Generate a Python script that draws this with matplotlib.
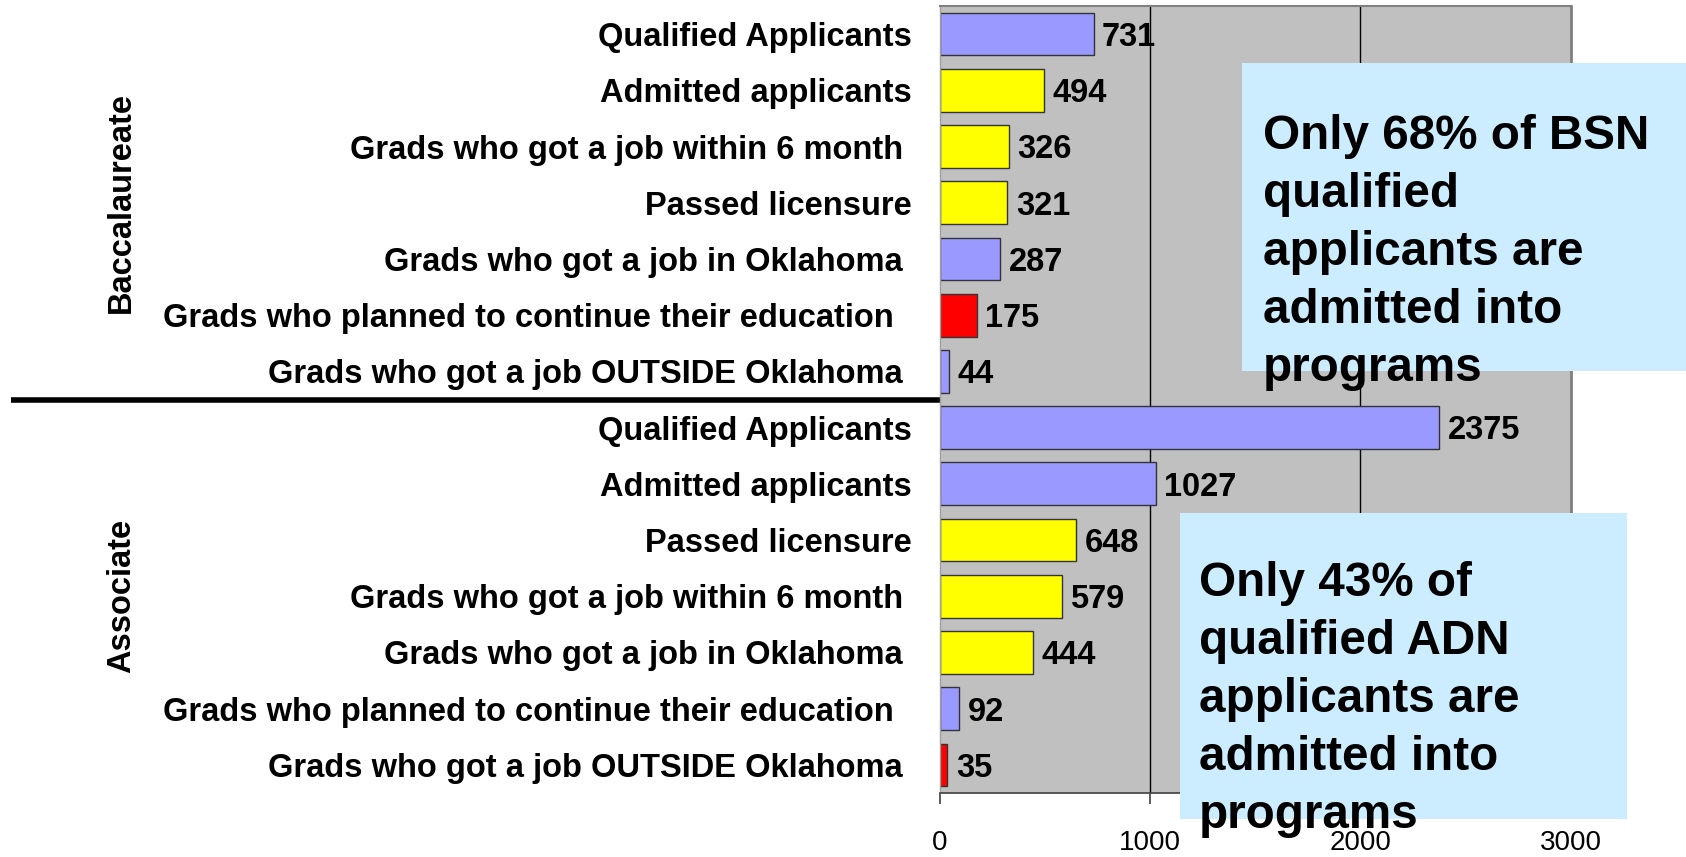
import matplotlib
matplotlib.use("Agg")
import matplotlib.pyplot as plt
from matplotlib.patches import Rectangle
from matplotlib.transforms import blended_transform_factory

plt.rcParams['font.family'] = ['Liberation Sans', 'DejaVu Sans']

# ---- data ----
labels = [
    "Qualified Applicants",
    "Admitted applicants",
    "Grads who got a job within 6 month ",
    "Passed licensure",
    "Grads who got a job in Oklahoma ",
    "Grads who planned to continue their education  ",
    "Grads who got a job OUTSIDE Oklahoma ",
    "Qualified Applicants",
    "Admitted applicants",
    "Passed licensure",
    "Grads who got a job within 6 month ",
    "Grads who got a job in Oklahoma ",
    "Grads who planned to continue their education  ",
    "Grads who got a job OUTSIDE Oklahoma ",
]
values = [731, 494, 326, 321, 287, 175, 44,
          2375, 1027, 648, 579, 444, 92, 35]
color_keys = ["blue", "yellow", "yellow", "yellow", "blue", "red", "blue",
              "blue", "blue", "yellow", "yellow", "yellow", "blue", "red"]
groups = ["Baccalaureate", "Associate"]
group_sizes = [7, 7]
xticks = [0, 1000, 2000, 3000]
note_bsn = "Only 68% of BSN\nqualified\napplicants are\nadmitted into\nprograms"
note_adn = "Only 43% of\nqualified ADN\napplicants are\nadmitted into\nprograms"

palette = {"blue": "#9999FF", "yellow": "#FFFF00", "red": "#FF0000"}

W, H = 1686, 857
fig = plt.figure(figsize=(W / 100, H / 100), dpi=100)
ax = fig.add_axes([940 / W, 1 - 793 / H, (1570.5 - 940) / W, (793 - 6) / H])
ax.set_facecolor("#C0C0C0")

pos = list(range(len(values)))
for x in xticks[1:-1]:
    ax.axvline(x, color="black", lw=1.0, zorder=1)
ax.barh(pos, values, height=0.76, color=[palette[c] for c in color_keys],
        edgecolor="#333333", linewidth=1.0, zorder=2)
for p, v in zip(pos, values):
    ax.text(v + 40, p + 0.06, str(v), va="center", ha="left", fontsize=23.5,
            fontweight="bold", zorder=3)

ax.set_xlim(xticks[0], xticks[-1])
ax.set_ylim(len(values) - 0.5, -0.5)
ax.set_yticks(pos)
ax.set_yticklabels(labels, fontsize=23.5, fontweight="bold")
ax.tick_params(axis="y", length=0, pad=20)
ax.set_xticks(xticks)
ax.set_xticklabels([str(t) for t in xticks], fontsize=20)
ax.tick_params(axis="x", length=8, width=1.2, color="#404040", pad=19)

for s in ["top", "right"]:
    ax.spines[s].set_color("#808080")
ax.spines["top"].set_linewidth(1.5)
ax.spines["right"].set_linewidth(2.0)
ax.spines["left"].set_color("#A0A0A0")
ax.spines["left"].set_linewidth(1.0)
ax.spines["bottom"].set_color("#404040")
ax.spines["bottom"].set_linewidth(1.2)

# separator line between groups
tr = blended_transform_factory(fig.transFigure, ax.transData)
ax.plot([11 / W, 940 / W], [group_sizes[0] - 0.5] * 2, color="black",
        lw=4.0, transform=tr, clip_on=False, solid_capstyle="butt")

# group labels
start = 0
for g, n in zip(groups, group_sizes):
    ax.text(121.5 / W, start + (n - 1) / 2, g, transform=tr, rotation=90,
            ha="center", va="center", fontsize=23.5, fontweight="bold")
    start += n

# annotation boxes
fig.add_artist(Rectangle((1242 / W, 1 - 371 / H), (W - 1242) / W, 308 / H,
                         transform=fig.transFigure, facecolor="#CCECFF",
                         edgecolor="none", zorder=1))
fig.text(1263 / W, 1 - 114 / H, note_bsn, ha="left", va="top", fontsize=34.3,
         fontweight="bold", linespacing=1.37, zorder=3)
fig.add_artist(Rectangle((1180 / W, 1 - 819 / H), (1627 - 1180) / W, 306 / H,
                         transform=fig.transFigure, facecolor="#CCECFF",
                         edgecolor="none", zorder=1))
fig.text(1199 / W, 1 - 561 / H, note_adn, ha="left", va="top", fontsize=34.3,
         fontweight="bold", linespacing=1.37, zorder=3)

fig.savefig("out.png", dpi=100)
